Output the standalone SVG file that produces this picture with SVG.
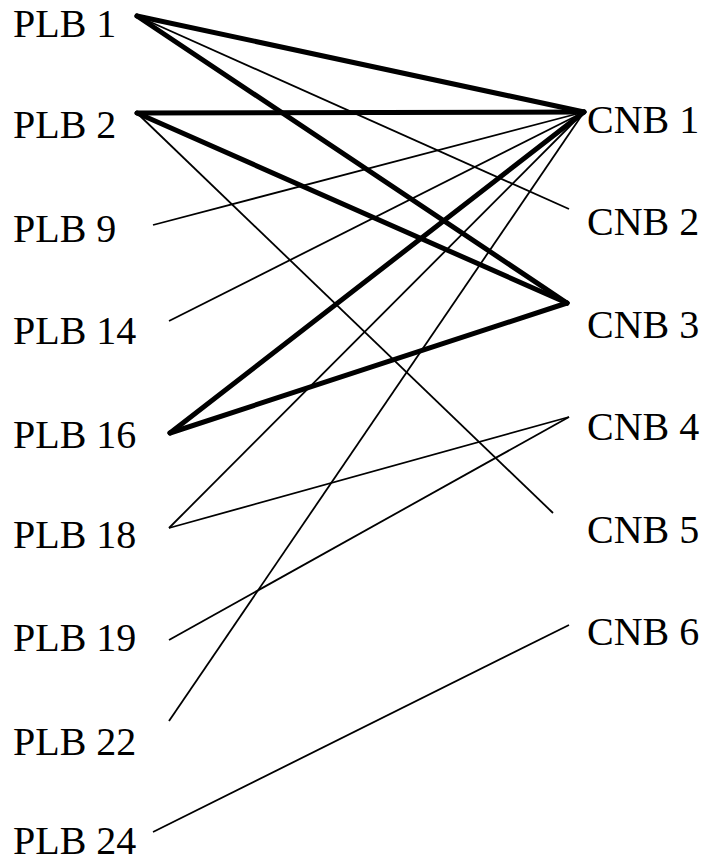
<svg xmlns="http://www.w3.org/2000/svg" width="713" height="862" viewBox="0 0 713 862">
<style>
text{font-family:"Liberation Serif","Times New Roman",Times,serif;font-size:40px;fill:#000}
.thick{stroke:#000;stroke-width:5;stroke-linecap:round;fill:none}
.thin{stroke:#000;stroke-width:1.8;fill:none}
</style>
<rect width="713" height="862" fill="#fff"/>
<g id="connectors">
<line class="thin" x1="137" y1="16" x2="569" y2="209"/>
<line class="thin" x1="137" y1="113" x2="553" y2="513"/>
<line class="thin" x1="153" y1="225" x2="584" y2="112"/>
<line class="thin" x1="169" y1="321" x2="584" y2="112"/>
<line class="thin" x1="169" y1="528" x2="584" y2="112"/>
<line class="thin" x1="169" y1="528" x2="569" y2="417"/>
<line class="thin" x1="169" y1="640" x2="569" y2="417"/>
<line class="thin" x1="169" y1="721" x2="584" y2="112"/>
<line class="thin" x1="153" y1="832" x2="569" y2="625"/>
<line class="thick" x1="137" y1="16" x2="584" y2="112"/>
<line class="thick" x1="137" y1="16" x2="567" y2="303"/>
<line class="thick" x1="137" y1="113" x2="584" y2="112"/>
<line class="thick" x1="137" y1="113" x2="567" y2="303"/>
<line class="thick" x1="170" y1="433" x2="584" y2="112"/>
<line class="thick" x1="170" y1="433" x2="567" y2="303"/>
</g>
<g id="PLB1"><text x="13" y="37">PLB 1</text></g>
<g id="PLB2"><text x="13" y="138">PLB 2</text></g>
<g id="PLB9"><text x="13" y="242">PLB 9</text></g>
<g id="PLB14"><text x="13" y="344">PLB 14</text></g>
<g id="PLB16"><text x="13" y="448">PLB 16</text></g>
<g id="PLB18"><text x="13" y="548">PLB 18</text></g>
<g id="PLB19"><text x="13" y="651">PLB 19</text></g>
<g id="PLB22"><text x="13" y="755">PLB 22</text></g>
<g id="PLB24"><text x="13" y="854">PLB 24</text></g>
<g id="CNB1"><text x="587" y="133">CNB 1</text></g>
<g id="CNB2"><text x="587" y="235">CNB 2</text></g>
<g id="CNB3"><text x="587" y="338">CNB 3</text></g>
<g id="CNB4"><text x="587" y="440">CNB 4</text></g>
<g id="CNB5"><text x="587" y="543">CNB 5</text></g>
<g id="CNB6"><text x="587" y="645">CNB 6</text></g>
</svg>
